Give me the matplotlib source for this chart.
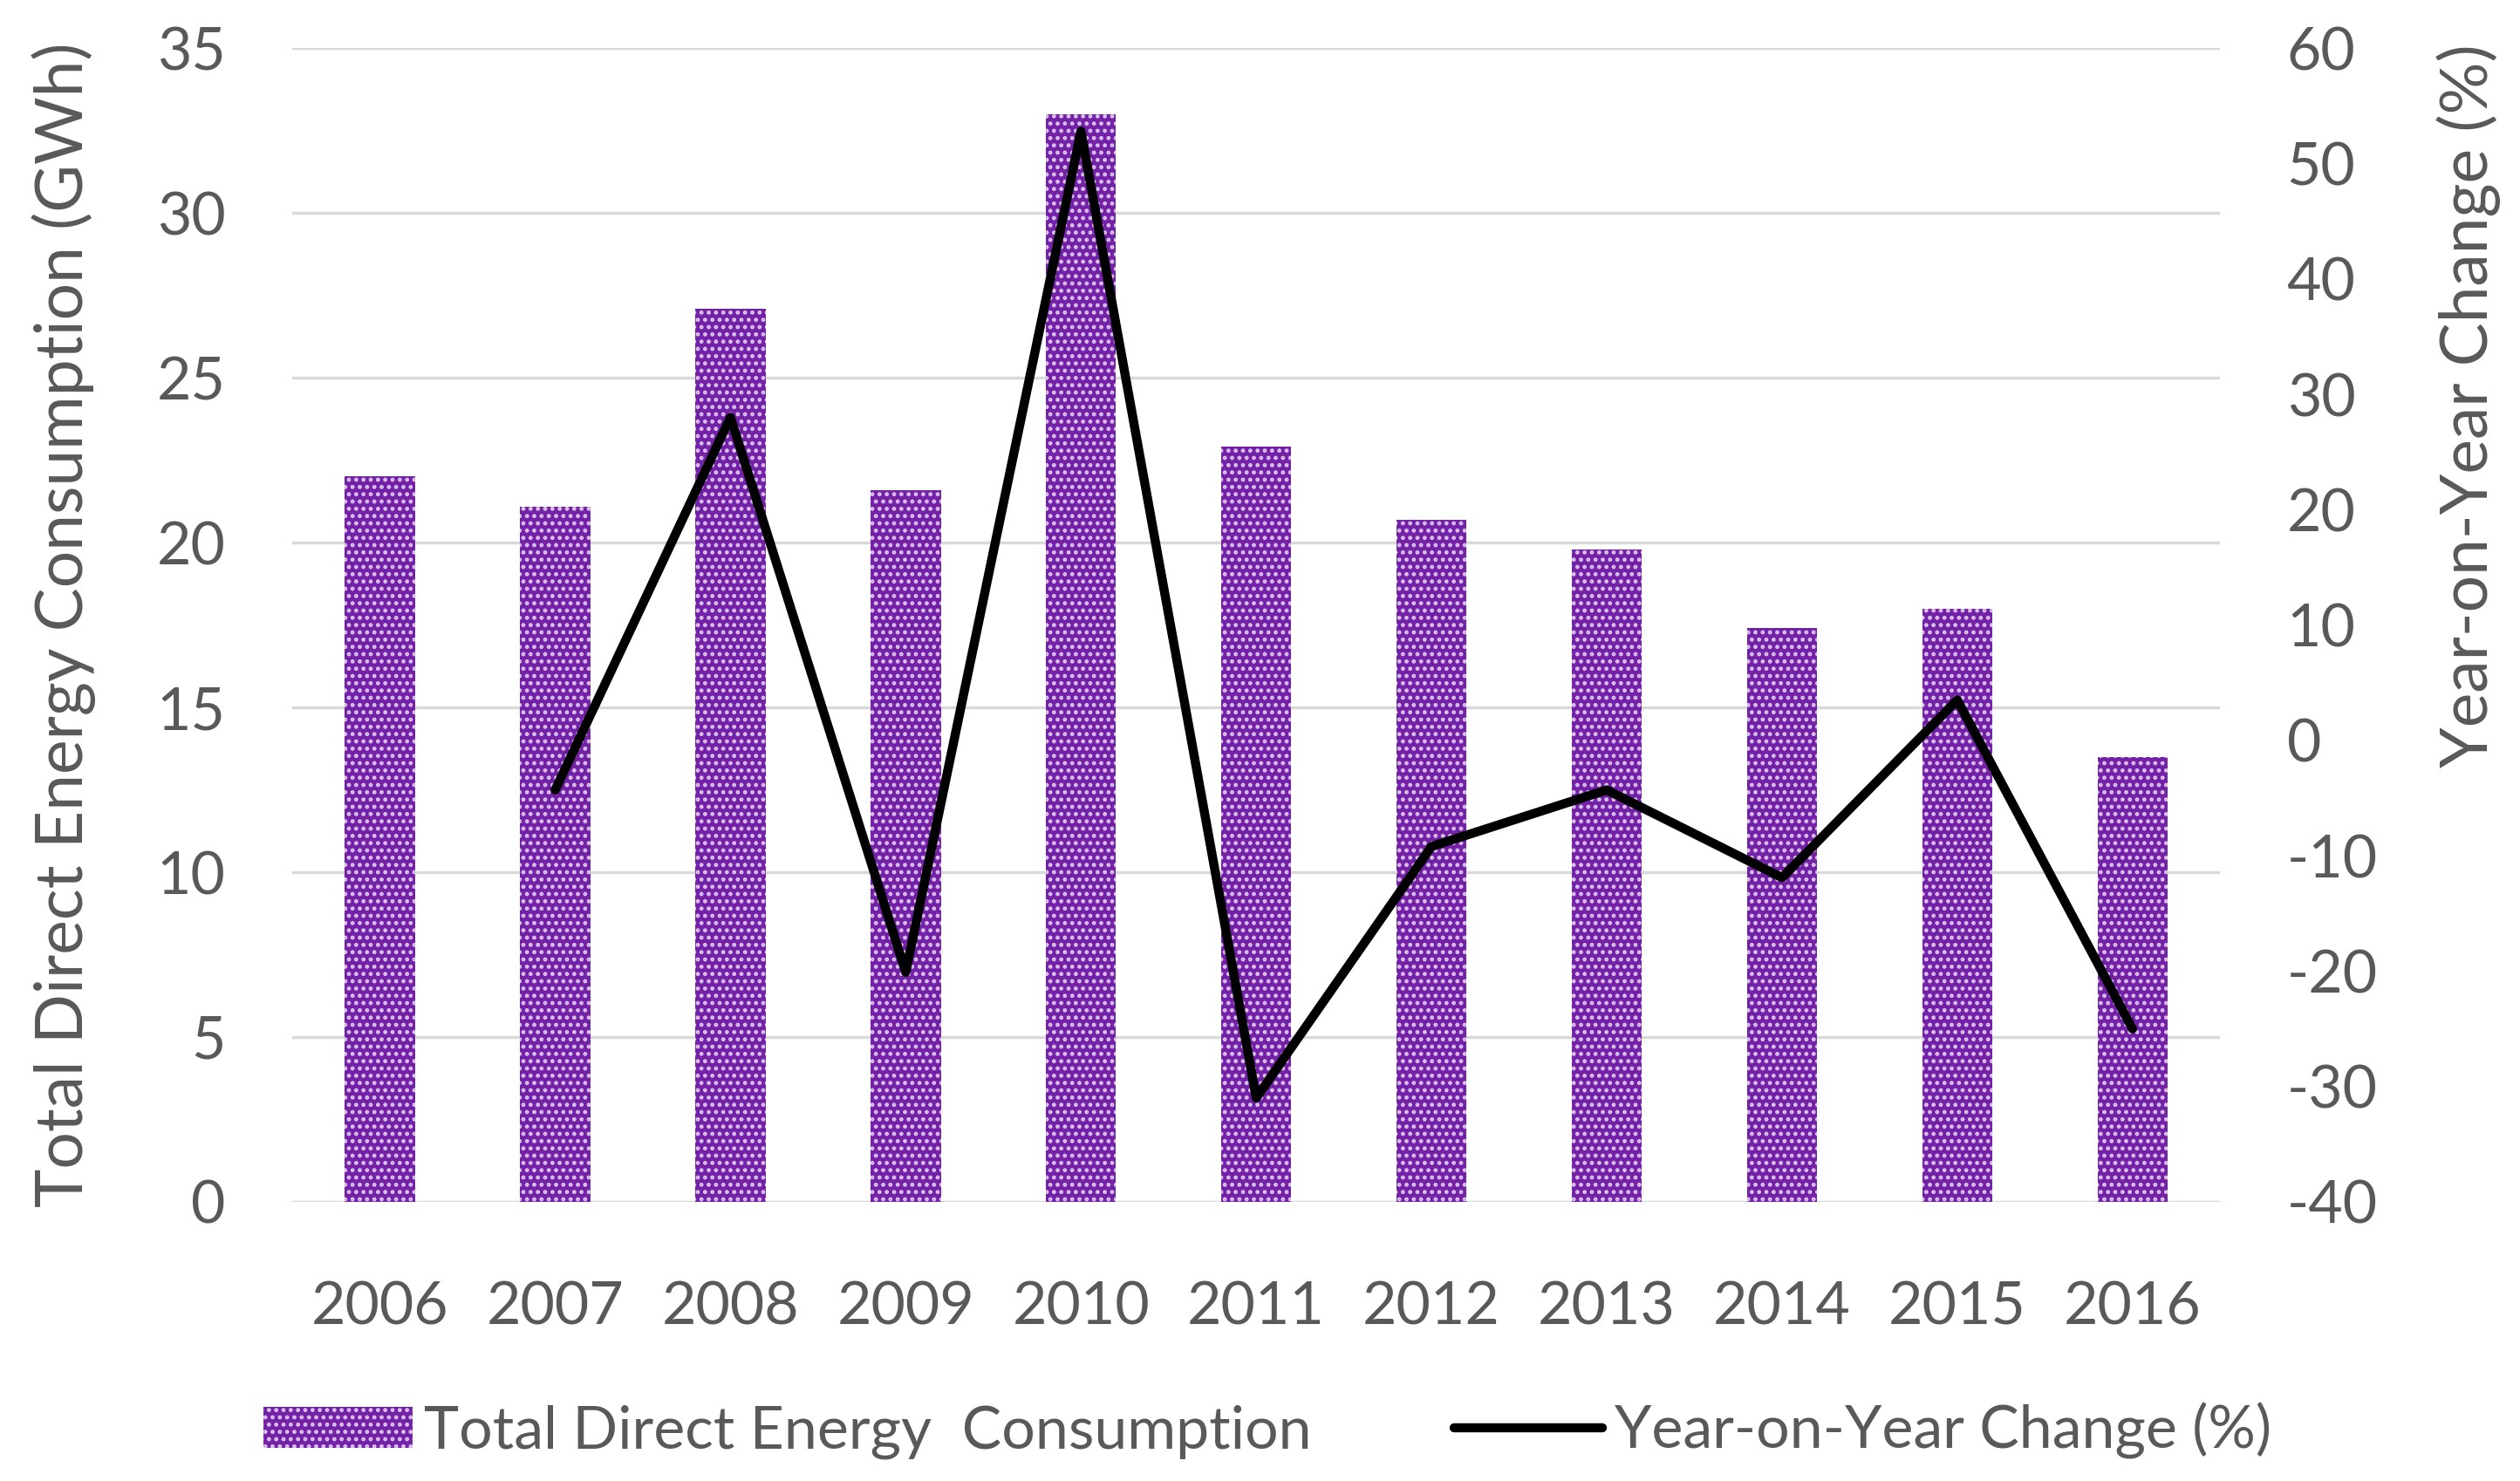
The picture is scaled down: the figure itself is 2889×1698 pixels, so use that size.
import matplotlib
matplotlib.use('Agg')
import matplotlib.pyplot as plt
import numpy as np

years = ['2006', '2007', '2008', '2009', '2010', '2011', '2012', '2013', '2014', '2015', '2016']
consumption = [22.0, 21.1, 27.1, 21.6, 33.0, 22.9, 20.7, 19.8, 17.4, 18.0, 13.5]
yoy_change = [np.nan, -4.3, 28.0, -20.1, 52.8, -31.0, -9.2, -4.3, -11.9, 3.5, -25.0]

plt.rcParams['font.family'] = ['Lato', 'DejaVu Sans']
plt.rcParams['axes.unicode_minus'] = False
plt.rcParams['hatch.linewidth'] = 2.2
grey = '#595959'
purple = '#7321A6'

fig = plt.figure(figsize=(28.89, 16.98), dpi=100)
ax = fig.add_axes([0.116, 0.1885, 0.765, 0.779])
x = np.arange(len(years))

bars = ax.bar(x, consumption, width=0.4, color=purple, edgecolor='#DCC3EE',
              hatch='..', linewidth=0, zorder=2)
ax.set_xlim(-0.5, len(years) - 0.5)
ax.set_ylim(0, 35)
ax.set_yticks(range(0, 36, 5))
ax.set_xticks(x)
ax.set_xticklabels(years)
ax.grid(axis='y', color='#D9D9D9', linewidth=2.5, zorder=0)
ax.set_axisbelow(True)
for s in ax.spines.values():
    s.set_visible(False)
ax.tick_params(axis='both', length=0, labelsize=49, labelcolor=grey)
ax.tick_params(axis='y', pad=55)
ax.tick_params(axis='x', pad=65)
ax.set_ylabel('Total Direct Energy Consumption (GWh)', fontsize=54, color=grey)
ax.yaxis.set_label_coords(-0.102, 0.5)

ax2 = ax.twinx()
line, = ax2.plot(x, yoy_change, color='black', linewidth=7.5,
                 solid_capstyle='round', solid_joinstyle='round', zorder=3)
ax2.set_ylim(-40, 60)
ax2.set_yticks(range(-40, 61, 10))
for s in ax2.spines.values():
    s.set_visible(False)
ax2.tick_params(axis='y', length=0, labelsize=49, labelcolor=grey, pad=55)
ax2.set_ylabel('Year-on-Year Change (%)', fontsize=54, color=grey)
ax2.yaxis.set_label_coords(1.112, 0.69)

fig.legend([bars, line], ['Total Direct Energy  Consumption', 'Year-on-Year Change (%)'],
           loc='center', bbox_to_anchor=(0.503, 0.034), ncol=2, frameon=False,
           fontsize=49, labelcolor=grey, handlelength=2.5, handleheight=0.7,
           handletextpad=0.2, columnspacing=2.4)

fig.savefig('out.png', dpi=100)
